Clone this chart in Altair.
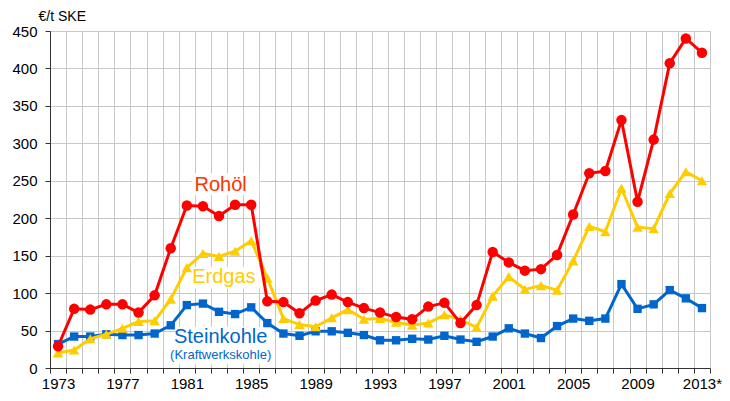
import altair as alt
import pandas as pd

years = list(range(1973, 2014))
rohoel = [29, 79, 78, 85, 85, 74, 97,
          160, 217, 216, 203, 218, 218, 89, 88, 73, 90,
          98, 88, 80, 74, 68, 65, 82, 87, 60, 84,
          155, 141, 130, 132, 151, 205, 260, 263, 331, 222,
          305, 407, 440, 421]
erdgas = [20, 24, 39, 45, 53, 62, 63,
          92, 134, 153, 149, 156, 170, 120, 66, 58, 55,
          67, 78, 65, 66, 61, 57, 60, 71, 65, 54,
          96, 122, 105, 110, 104, 143, 189, 182, 240, 188,
          186, 233, 262, 250]
steinkohle = [32, 42, 42, 45, 44, 44, 46,
              57, 84, 86, 75, 72, 81, 60, 46, 43, 49,
              49, 47, 44, 37, 37, 39, 38, 43, 38, 35,
              42, 53, 46, 40, 56, 66, 63, 66, 112, 79,
              85, 104, 93, 80]

series_names = ["Steinkohle", "Erdgas", "Rohöl"]
series_values = [steinkohle, erdgas, rohoel]
series_colors = ["#0066CC", "#FFCC00", "#FF0000"]
series_shapes = ["square", "triangle-up", "circle"]
series_sizes = [70, 110, 110]

y_ticks = list(range(0, 451, 50))
x_boundaries = [y - 0.5 for y in years] + [years[-1] + 0.5]

label_texts = ["Rohöl", "Erdgas", "Steinkohle", "(Kraftwerkskohle)"]
label_x = [1983.1, 1983.3, 1983.1, 1983.1]
label_y = [245, 122, 41, 17.5]
label_sizes = [20, 20, 20, 13]
label_colors = ["#FF3300", "#FFCC00", "#0066CC", "#0066CC"]

# white boxes behind the series labels (in data units)
box_x1 = [1981.3, 1981.1, 1980.35]
box_x2 = [1985.5, 1985.6, 1986.4]
box_y1 = [231, 106, 5]
box_y2 = [260, 135, 55]

FONT = "Liberation Sans"
W, H = 660, 337
BAND = W / len(years)

x_enc = alt.X(
    "Jahr:Q",
    scale=alt.Scale(domain=[1972.5, 2013.5], nice=False, zero=False),
    axis=alt.Axis(
        values=x_boundaries, grid=True, gridColor="#C8C8C8", gridWidth=1,
        ticks=True, tickSize=5, tickColor="#333333", domainColor="#333333",
        labelExpr="(datum.value + 0.5 - 1973) % 4 == 0 ? ((datum.value + 0.5) == 2013 ? '2013*' : toString(datum.value + 0.5)) : ''",
        labelOffset=BAND / 2, labelOverlap=False, labelFontSize=15, labelFont=FONT,
        labelColor="#000000", labelPadding=3, title=None, labelFlush=False,
    ),
)
y_enc = alt.Y(
    "Wert:Q",
    scale=alt.Scale(domain=[0, 450], nice=False),
    axis=alt.Axis(
        values=y_ticks, grid=True, gridColor="#C8C8C8", gridWidth=1,
        tickSize=5, tickColor="#333333", domainColor="#333333",
        labelFontSize=15, labelFont=FONT, labelColor="#000000", labelPadding=8,
        title="€/t SKE", titleAngle=0, titleAlign="left", titleBaseline="alphabetic",
        titleX=-12, titleY=-11, titleFontSize=14, titleFontWeight="normal",
        titleFont=FONT, titleColor="#000000",
    ),
)

layers = []
bdf = pd.DataFrame({"Jahr": box_x1, "x2": box_x2, "Wert": box_y1, "y2": box_y2})
layers.append(
    alt.Chart(bdf).mark_rect(color="white", opacity=1)
    .encode(x=x_enc, x2="x2:Q", y=y_enc, y2="y2:Q")
)

for name, vals, col, shp, sz in zip(series_names, series_values, series_colors, series_shapes, series_sizes):
    df = pd.DataFrame({"Jahr": years, "Wert": vals, "Serie": name})
    base = alt.Chart(df).encode(x=x_enc, y=y_enc)
    layers.append(base.mark_line(color=col, strokeWidth=3))
    layers.append(base.mark_point(color=col, fill=col, filled=True, shape=shp, size=sz, opacity=1))

for t, lx, ly, ls, lc in zip(label_texts, label_x, label_y, label_sizes, label_colors):
    ldf = pd.DataFrame({"Jahr": [lx], "Wert": [ly], "t": [t]})
    layers.append(
        alt.Chart(ldf).mark_text(fontSize=ls, color=lc, font=FONT, align="center", baseline="middle")
        .encode(x=x_enc, y=y_enc, text="t:N")
    )

chart = alt.layer(*layers).properties(
    width=W, height=H,
    autosize=alt.AutoSizeParams(type="none"),
    padding={"left": 42, "top": 23, "right": 12, "bottom": 25},
).configure_view(stroke=None).configure(background="white")

chart.save("out.html", embed_options={"renderer": "svg", "actions": False})
